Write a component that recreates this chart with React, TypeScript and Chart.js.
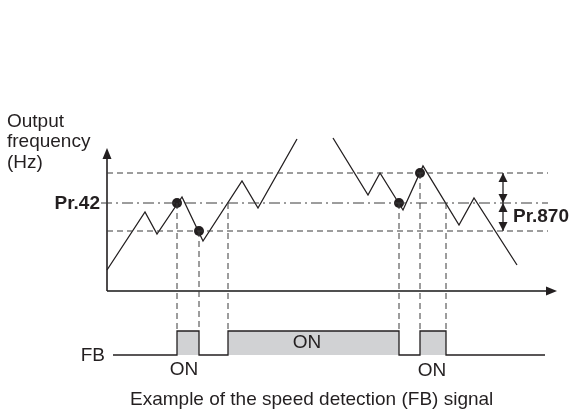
import React, { useEffect, useRef } from "react";
import { Chart, registerables } from "chart.js";
Chart.register(...registerables);

// Diagram units: time (horizontal) and output frequency (vertical)
const traceRiseT = [0, 38, 50, 75, 96, 135, 151, 190];
const traceRiseF = [21, 79, 57, 94, 50, 110, 83, 152];
const traceFallT = [226, 261, 273, 296, 316, 352, 367, 410];
const traceFallF = [153, 96, 118, 81, 125, 66, 93, 26];

const levelUpper = 118; // Pr.42 + Pr.870
const levelPr42 = 88;
const levelLower = 60; // Pr.42 - Pr.870
const levelStartT = 0;
const levelEndT = 441;
const pr42TickT = -6;

const detectT = [70, 92, 292, 313];
const detectF = [88, 60, 88, 118];

const edgeT = [70, 92, 121, 292, 313, 339];
const edgeFromF = [88, 60, 88, 88, 118, 88];

const fbT = [6, 70, 70, 92, 92, 121, 121, 292, 292, 313, 313, 339, 339, 438];
const fbState = [0, 0, 1, 1, 0, 0, 1, 1, 0, 0, 1, 1, 0, 0];
const fbLow = -64;
const fbHigh = -40;

const yAxisTop = 143;
const xAxisEnd = 450;
const pr870T = 396;

const INK = "#231f20";

const arrowPlugin = {
  id: "arrows",
  afterDatasetsDraw(chart: any) {
    const { ctx, scales } = chart;
    const xs = scales.x, ys = scales.y;
    const head = (t: number, f: number, dir: string, len: number, hw: number, color: string) => {
      const px = xs.getPixelForValue(t), py = ys.getPixelForValue(f);
      ctx.save();
      ctx.fillStyle = color;
      ctx.beginPath();
      if (dir === "up") { ctx.moveTo(px, py); ctx.lineTo(px - hw, py + len); ctx.lineTo(px + hw, py + len); }
      if (dir === "down") { ctx.moveTo(px, py); ctx.lineTo(px - hw, py - len); ctx.lineTo(px + hw, py - len); }
      if (dir === "right") { ctx.moveTo(px, py); ctx.lineTo(px - len, py - hw); ctx.lineTo(px - len, py + hw); }
      ctx.closePath();
      ctx.fill();
      ctx.restore();
    };
    head(0, yAxisTop, "up", 11, 4.5, INK);
    head(xAxisEnd, 0, "right", 11, 4.5, INK);
    head(pr870T, levelUpper, "up", 9, 4.5, INK);
    head(pr870T, levelPr42, "down", 9, 4.5, INK);
    head(pr870T, levelPr42, "up", 9, 4.5, INK);
    head(pr870T, levelLower, "down", 9, 4.5, INK);
  },
};

const labels = [
  { text: "Output", t: -100, f: 164, align: "left", base: "alphabetic", bold: false },
  { text: "frequency", t: -100, f: 144, align: "left", base: "alphabetic", bold: false },
  { text: "(Hz)", t: -100, f: 123, align: "left", base: "alphabetic", bold: false },
  { text: "Pr.42", t: -7, f: 87, align: "right", base: "middle", bold: true },
  { text: "Pr.870", t: 406, f: 74, align: "left", base: "middle", bold: true },
  { text: "FB", t: -2, f: -65, align: "right", base: "middle", bold: false },
  { text: "ON", t: 77, f: -79, align: "center", base: "middle", bold: false },
  { text: "ON", t: 200, f: -52, align: "center", base: "middle", bold: false },
  { text: "ON", t: 325, f: -80, align: "center", base: "middle", bold: false },
  { text: "Example of the speed detection (FB) signal", t: 23, f: -109, align: "left", base: "middle", bold: false },
];

const textPlugin = {
  id: "texts",
  afterDraw(chart: any) {
    const { ctx, scales } = chart;
    ctx.save();
    ctx.fillStyle = INK;
    for (const l of labels) {
      ctx.font = (l.bold ? "bold 19px" : "19px") + " 'Liberation Sans', Arial, sans-serif";
      ctx.textAlign = l.align;
      ctx.textBaseline = l.base;
      ctx.fillText(l.text, scales.x.getPixelForValue(l.t), scales.y.getPixelForValue(l.f));
    }
    ctx.restore();
  },
};

const line = (data: any[], extra: any = {}) => ({
  type: "line",
  data,
  borderColor: INK,
  borderWidth: 1.3,
  pointRadius: 0,
  fill: false,
  tension: 0,
  clip: false,
  ...extra,
});

export default function App() {
  const ref = useRef<HTMLCanvasElement>(null);
  useEffect(() => {
    if (!ref.current) return;
    const dashed = { borderColor: "#3a3a3a", borderWidth: 1, borderDash: [6, 4] };
    const datasets: any[] = [
      line(fbT.map((t, i) => ({ x: t, y: fbState[i] ? fbHigh : fbLow })), {
        fill: { value: fbLow },
        backgroundColor: "#d1d2d4",
      }),
      line([{ x: levelStartT, y: levelUpper }, { x: levelEndT, y: levelUpper }], dashed),
      line([{ x: pr42TickT, y: levelPr42 }, { x: levelEndT, y: levelPr42 }], { ...dashed, borderDash: [11, 4, 2, 4] }),
      line([{ x: levelStartT, y: levelLower }, { x: levelEndT, y: levelLower }], dashed),
      ...edgeT.map((t, i) => line([{ x: t, y: edgeFromF[i] }, { x: t, y: fbHigh }], dashed)),
      line(traceRiseT.map((t, i) => ({ x: t, y: traceRiseF[i] }))),
      line(traceFallT.map((t, i) => ({ x: t, y: traceFallF[i] }))),
      line([{ x: pr870T, y: levelUpper }, { x: pr870T, y: levelLower }], { borderWidth: 1.3 }),
      line([{ x: 0, y: 0 }, { x: 0, y: yAxisTop - 6 }], { borderWidth: 1.6 }),
      line([{ x: 0, y: 0 }, { x: xAxisEnd - 6, y: 0 }], { borderWidth: 2, borderColor: "#505050" }),
      {
        type: "scatter",
        data: detectT.map((t, i) => ({ x: t, y: detectF[i] })),
        pointRadius: 5,
        pointBackgroundColor: INK,
        pointBorderWidth: 0,
        showLine: false,
        clip: false,
      },
    ];
    const chart = new Chart(ref.current, {
      type: "line",
      data: { datasets },
      options: {
        animation: false,
        responsive: false,
        devicePixelRatio: 1,
        layout: { padding: 0, autoPadding: false },
        plugins: { legend: { display: false }, tooltip: { enabled: false } },
        events: [],
        scales: {
          x: { type: "linear", min: -107, max: 463, display: false },
          y: { type: "linear", min: -121, max: 291, display: false },
        },
      } as any,
      plugins: [arrowPlugin, textPlugin],
    } as any);
    return () => chart.destroy();
  }, []);
  return (
    <div style={{ position: "absolute", left: 0, top: 0, width: 570, height: 412, background: "#fff" }}>
      <canvas ref={ref} width={570} height={412} style={{ width: 570, height: 412, display: "block" }} />
    </div>
  );
}
